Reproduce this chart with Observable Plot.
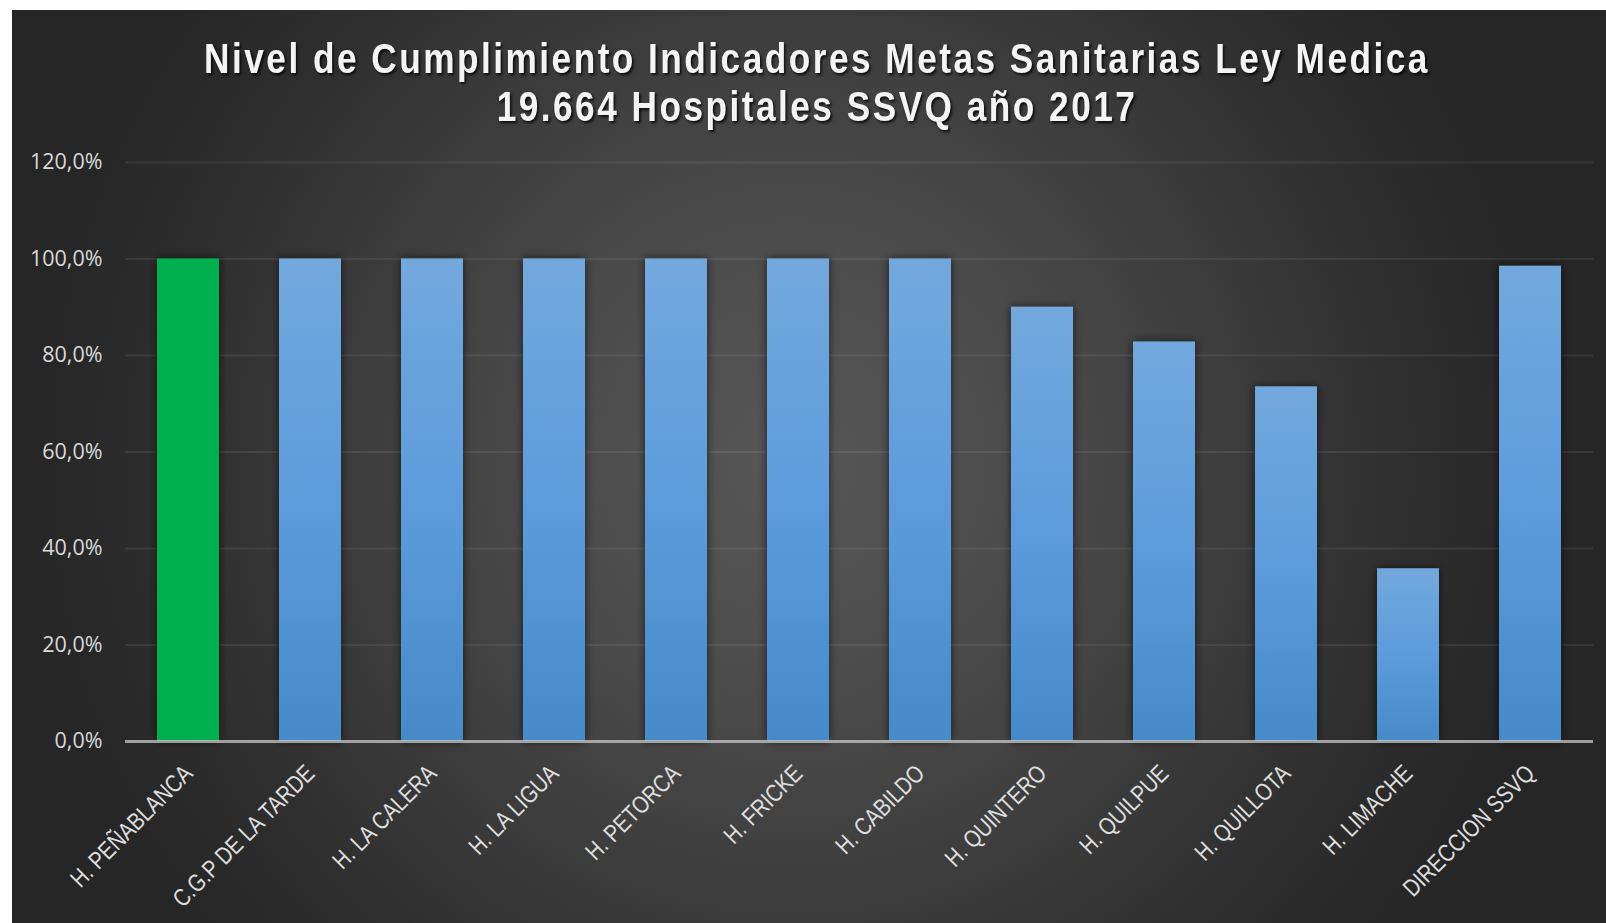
<!DOCTYPE html>
<html><head><meta charset="utf-8">
<script src="https://cdn.jsdelivr.net/npm/d3@7"></script>
<script src="https://cdn.jsdelivr.net/npm/@observablehq/plot@0.6"></script>
<style>
html,body{margin:0;padding:0;background:#fff;width:1606px;height:923px;overflow:hidden;}
#panel{position:absolute;left:12px;top:10px;width:1594px;height:913px;
background: radial-gradient(circle 760px at 780px 450px, #575757 0%, #4c4c4c 30%, #3a3a3a 62%, #2e2e2e 82%, #262626 100%);}
#title{height:140px;box-sizing:border-box;padding-top:24px;padding-left:16px;text-align:center;
font-family:'Liberation Sans',Arial,sans-serif;font-weight:bold;font-size:43px;line-height:48px;letter-spacing:3px;color:#f4f4f4;text-shadow:2px 2px 3px rgba(0,0,0,0.8);}
#title div{transform:scaleX(0.82);transform-origin:50% 50%;white-space:nowrap;}
#chart svg{display:block;}
</style></head>
<body><div id="panel"><div id="title"><div>Nivel de Cumplimiento Indicadores Metas Sanitarias Ley Medica</div><div>19.664 Hospitales SSVQ año 2017</div></div><div id="chart"></div></div>
<script>
const categories = ["H. PEÑABLANCA", "C.G.P DE LA TARDE", "H. LA CALERA", "H. LA LIGUA", "H. PETORCA", "H. FRICKE", "H. CABILDO", "H. QUINTERO", "H. QUILPUE", "H. QUILLOTA", "H. LIMACHE", "DIRECCION SSVQ"];
const values = [1.0, 1.0, 1.0, 1.0, 1.0, 1.0, 1.0, 0.900, 0.828, 0.735, 0.358, 0.985];
const yTicks = [0, 0.2, 0.4, 0.6, 0.8, 1.0, 1.2];
const highlight = "H. PEÑABLANCA";

const data = categories.map((c, i) => ({category: c, value: values[i]}));
const fmt = v => (v * 100).toFixed(1).replace(".", ",") + "%";

const plot = Plot.plot({
  width: 1594, height: 773,
  marginLeft: 113, marginRight: 13, marginTop: 12, marginBottom: 182,
  style: {background: "transparent", color: "#d9d9d9", fontFamily: "'Open Sans', sans-serif", fontSize: "21px", overflow: "visible"},
  x: {domain: categories, paddingInner: 0.49, paddingOuter: 0.245, axis: null},
  y: {domain: [0, 1.2]},
  marks: [
    Plot.gridY(yTicks.filter(t => t > 0), {stroke: "#ffffff", strokeOpacity: 0.08, strokeWidth: 2}),
    Plot.axisY(yTicks, {tickSize: 0, tickPadding: 23, tickFormat: fmt, fill: "#d9d9d9", fontSize: 21.5, label: null}),
    Plot.barY(data.filter(d => d.category !== highlight), {x: "category", y: "value", fill: "url(#barGrad)"}),
    Plot.barY(data.filter(d => d.category === highlight), {x: "category", y: "value", fill: "#00b050"}),
    Plot.ruleY([0], {stroke: "#c8c8c8", strokeOpacity: 0.75, strokeWidth: 3}),
    Plot.text(categories, {x: d => d, text: d => d, frameAnchor: "bottom", dy: 28, dx: 0, rotate: -45, textAnchor: "end", lineAnchor: "middle", fill: "#dedede", fontFamily: "'Liberation Sans', Arial, sans-serif", fontSize: 24.5})
  ]
});

const ns = "http://www.w3.org/2000/svg";
const defs = document.createElementNS(ns, "defs");
const grad = document.createElementNS(ns, "linearGradient");
grad.setAttribute("id", "barGrad");
grad.setAttribute("x1", "0"); grad.setAttribute("y1", "0");
grad.setAttribute("x2", "0"); grad.setAttribute("y2", "1");
[["0", "#73a8dd"], ["0.5", "#5c9cdc"], ["1", "#468ac9"]].forEach(([o, c]) => {
  const s = document.createElementNS(ns, "stop");
  s.setAttribute("offset", o); s.setAttribute("stop-color", c);
  grad.appendChild(s);
});
defs.appendChild(grad);
const filt = document.createElementNS(ns, "filter");
filt.setAttribute("id", "shadow");
filt.setAttribute("x", "-10%"); filt.setAttribute("y", "-10%");
filt.setAttribute("width", "120%"); filt.setAttribute("height", "120%");
const ds = document.createElementNS(ns, "feDropShadow");
ds.setAttribute("dx", "0"); ds.setAttribute("dy", "0");
ds.setAttribute("stdDeviation", "5");
ds.setAttribute("flood-color", "#000"); ds.setAttribute("flood-opacity", "0.6");
filt.appendChild(ds);
defs.appendChild(filt);
plot.insertBefore(defs, plot.firstChild);
plot.querySelectorAll('g[aria-label="bar"]').forEach(g => g.setAttribute("filter", "url(#shadow)"));
// condensed look for the rotated category labels
const catSet = new Set(categories);
plot.querySelectorAll('text').forEach(t => {
  if (!catSet.has(t.textContent)) return;
  const tr = t.getAttribute("transform") || "";
  t.setAttribute("transform", tr + " scale(0.82,1)");
});

document.getElementById("chart").appendChild(plot);
</script></body></html>
